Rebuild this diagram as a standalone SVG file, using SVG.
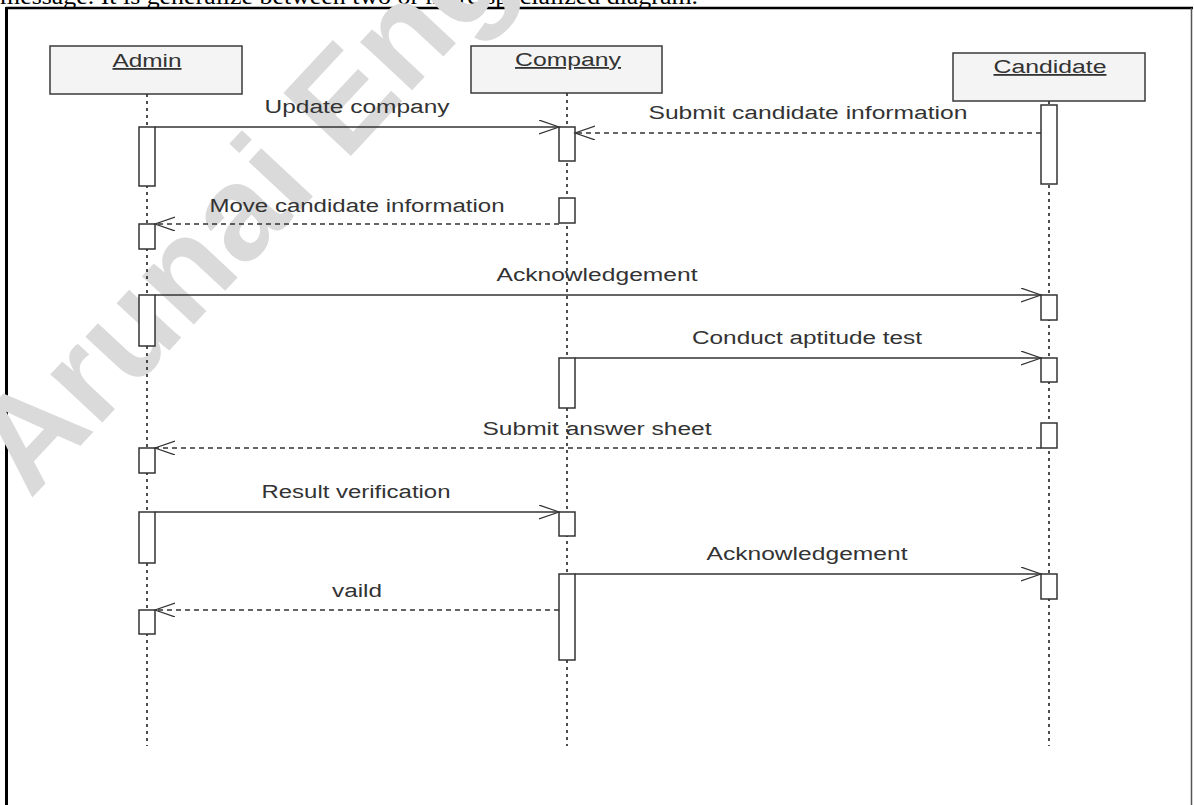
<svg xmlns="http://www.w3.org/2000/svg" width="1194" height="805" viewBox="0 0 1194 805">
  <defs>
    <style>
      .hdr { font-family: "Liberation Serif", "Times New Roman", serif; font-size: 24px; fill: #000; }
      .wm { font-family: "Liberation Sans", Arial, sans-serif; font-weight: bold; font-size: 134px; fill: #dadada; }
      .obj { fill: #f4f4f4; stroke: #3a3a3a; stroke-width: 1.5; }
      .objname { font-family: "Liberation Sans", Arial, sans-serif; font-size: 18px; fill: #333; text-anchor: middle; text-decoration: underline; }
      .life { stroke: #222; stroke-width: 1.6; stroke-dasharray: 3 4; fill: none; }
      .act { fill: #fff; stroke: #333; stroke-width: 1.5; }
      .msg { stroke: #333; stroke-width: 1.3; fill: none; marker-end: url(#open); }
      .ret { stroke: #333; stroke-width: 1.3; fill: none; stroke-dasharray: 5 4; marker-end: url(#open); }
      .lbl { font-family: "Liberation Sans", Arial, sans-serif; font-size: 18px; fill: #333; text-anchor: middle; }
    </style>
    <marker id="open" markerUnits="userSpaceOnUse" markerWidth="24" markerHeight="16" refX="20" refY="7" orient="auto">
      <path d="M0,0 L20,7 L0,14" fill="none" stroke="#333" stroke-width="1.2"/>
    </marker>
  </defs>

  <rect x="0" y="0" width="1194" height="805" fill="#fff"/>

  <!-- running text above the figure frame -->
  <text class="hdr" x="0" y="4" textLength="698" lengthAdjust="spacingAndGlyphs">message. It is generalize between two or more specialized diagram.</text>

  <!-- figure frame -->
  <line x1="6" y1="8" x2="1193" y2="8" stroke="#000" stroke-width="2.5"/>
  <line x1="6.5" y1="7" x2="6.5" y2="805" stroke="#000" stroke-width="3"/>
  <line x1="1191.5" y1="8" x2="1191.5" y2="805" stroke="#555" stroke-width="1.5"/>

  <!-- background watermark -->
  <text class="wm" x="0" y="0" transform="translate(30,500) rotate(-47)">Arunai Eng</text>

  <!-- lifelines -->
  <g id="lifelines">
    <line class="life" x1="147" y1="94" x2="147" y2="746"/>
    <line class="life" x1="567" y1="93" x2="567" y2="746"/>
    <line class="life" x1="1049" y1="101" x2="1049" y2="746"/>
  </g>

  <g id="admin">
    <rect class="obj" x="50" y="46" width="192" height="48"/>
    <text class="objname" x="147" y="67" textLength="69" lengthAdjust="spacingAndGlyphs">Admin</text>
    <rect class="act" x="139" y="127" width="16" height="59"/>
    <rect class="act" x="139" y="224" width="16" height="25"/>
    <rect class="act" x="139" y="295" width="16" height="51"/>
    <rect class="act" x="139" y="448" width="16" height="25"/>
    <rect class="act" x="139" y="512" width="16" height="51"/>
    <rect class="act" x="139" y="610" width="16" height="24"/>
  </g>

  <g id="company">
    <rect class="obj" x="471" y="46" width="191" height="47"/>
    <text class="objname" x="568" y="66" textLength="106" lengthAdjust="spacingAndGlyphs">Company</text>
    <rect class="act" x="559" y="127" width="16" height="34"/>
    <rect class="act" x="559" y="198" width="16" height="25"/>
    <rect class="act" x="559" y="358" width="16" height="50"/>
    <rect class="act" x="559" y="512" width="16" height="24"/>
    <rect class="act" x="559" y="574" width="16" height="86"/>
  </g>

  <g id="candidate">
    <rect class="obj" x="953" y="53" width="192" height="48"/>
    <text class="objname" x="1050" y="73" textLength="113" lengthAdjust="spacingAndGlyphs">Candidate</text>
    <rect class="act" x="1041" y="105" width="16" height="79"/>
    <rect class="act" x="1041" y="295" width="16" height="25"/>
    <rect class="act" x="1041" y="358" width="16" height="24"/>
    <rect class="act" x="1041" y="423" width="16" height="25"/>
    <rect class="act" x="1041" y="574" width="16" height="25"/>
  </g>

  <!-- messages -->
  <g id="connectors">
    <line class="msg" x1="155" y1="127" x2="559" y2="127"/>
    <text class="lbl" x="357" y="113" textLength="185" lengthAdjust="spacingAndGlyphs">Update company</text>

    <line class="ret" x1="1041" y1="133" x2="575" y2="133"/>
    <text class="lbl" x="808" y="119" textLength="319" lengthAdjust="spacingAndGlyphs">Submit candidate information</text>

    <line class="ret" x1="559" y1="224" x2="155" y2="224"/>
    <text class="lbl" x="357" y="212" textLength="295" lengthAdjust="spacingAndGlyphs">Move candidate information</text>

    <line class="msg" x1="155" y1="295" x2="1041" y2="295"/>
    <text class="lbl" x="597" y="281" textLength="201" lengthAdjust="spacingAndGlyphs">Acknowledgement</text>

    <line class="msg" x1="575" y1="358" x2="1041" y2="358"/>
    <text class="lbl" x="807" y="344" textLength="230" lengthAdjust="spacingAndGlyphs">Conduct aptitude test</text>

    <line class="ret" x1="1041" y1="448" x2="155" y2="448"/>
    <text class="lbl" x="597" y="435" textLength="229" lengthAdjust="spacingAndGlyphs">Submit answer sheet</text>

    <line class="msg" x1="155" y1="512" x2="559" y2="512"/>
    <text class="lbl" x="356" y="498" textLength="189" lengthAdjust="spacingAndGlyphs">Result verification</text>

    <line class="msg" x1="575" y1="574" x2="1041" y2="574"/>
    <text class="lbl" x="807" y="560" textLength="201" lengthAdjust="spacingAndGlyphs">Acknowledgement</text>

    <line class="ret" x1="559" y1="610" x2="155" y2="610"/>
    <text class="lbl" x="357" y="597" textLength="50" lengthAdjust="spacingAndGlyphs">vaild</text>
  </g>
</svg>
